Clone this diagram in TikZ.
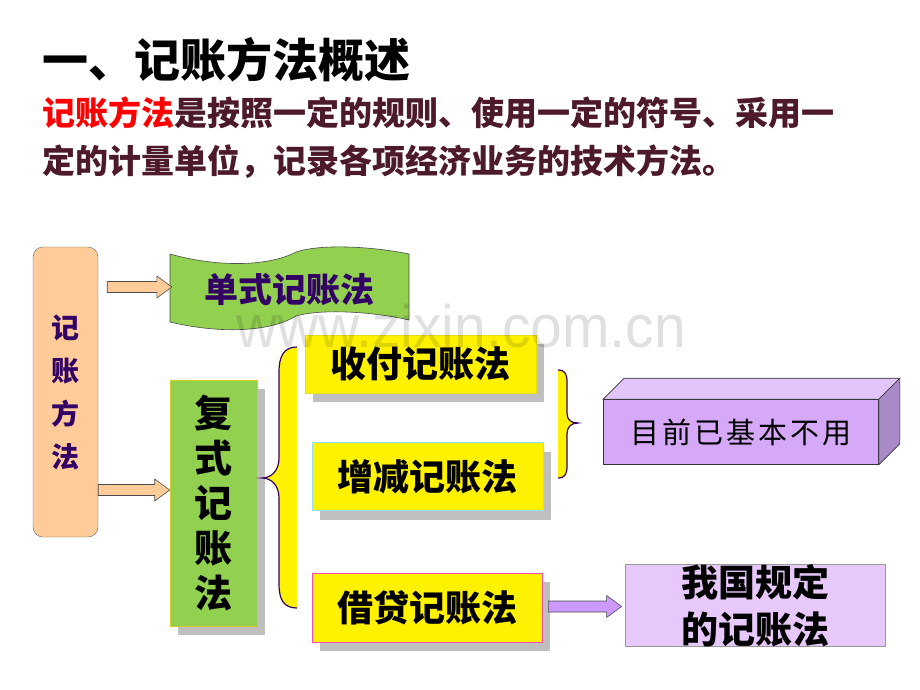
\documentclass[tikz,border=0pt]{standalone}
\usepackage{fontspec}
\setmainfont{Noto Sans CJK SC}
\newfontfamily\wmfont{Liberation Sans}
\usepackage{tikz}
\usetikzlibrary{calc, shadows}

\definecolor{peach}{RGB}{255,204,153}
\definecolor{leaf}{RGB}{146,208,80}
\definecolor{ink}{RGB}{51,0,102}
\definecolor{maroon}{RGB}{77,26,42}
\definecolor{lilac}{RGB}{213,168,248}
\definecolor{lilactop}{RGB}{226,198,251}
\definecolor{lilacside}{RGB}{168,138,200}
\definecolor{lilacpale}{RGB}{230,200,250}
\definecolor{lilacarrow}{RGB}{204,153,255}

% flat block arrow from #2 to #3 (height taken from #2)
\newcommand\blockarrow[3]{%
  \path[#1] let \p1=(#2), \p2=(#3) in
    (\x1,\y1+5.5pt) -- (\x2-15pt,\y1+5.5pt) -- (\x2-15pt,\y1+11pt) -- (\x2,\y1)
    -- (\x2-15pt,\y1-11pt) -- (\x2-15pt,\y1-5.5pt) -- (\x1,\y1-5.5pt) -- cycle;}

\begin{document}
\begin{tikzpicture}[x=1pt, y=-1pt,
  every node/.style={inner sep=0pt},
  shade box/.style={drop shadow={shadow xshift=8pt, shadow yshift=-9pt, fill=black!25, opacity=1}},
  method/.style={shade box, fill=yellow, line width=0.6pt, font=\bfseries\fontsize{36}{36}\selectfont},
  brace/.style={fill=yellow, draw=ink, line width=1.2pt},
  arrowbody/.style={draw=black!70, line width=0.6pt}]
  \fill[white] (0,0) rectangle (920,690);
  \useasboundingbox (0,0) rectangle (920,690);

  % heading and definition
  \node[anchor=west, font=\bfseries\fontsize{46}{46}\selectfont] (title) at (42,60) {一、记账方法概述};
  \node[anchor=west, text=maroon, font=\bfseries\fontsize{33}{33}\selectfont] (line1) at (42,113)
    {{\color{red}记账方法}是按照一定的规则、使用一定的符号、采用一};
  \node[anchor=west, text=maroon, font=\bfseries\fontsize{33}{33}\selectfont] (line2) at (42,162)
    {定的计量单位，记录各项经济业务的技术方法。};

  % left column
  \node[draw=black!60, fill=peach, rounded corners=10pt, minimum width=65, minimum height=290,
    align=center, text=ink, font=\bfseries\fontsize{28}{43}\selectfont] (jzff) at (65.5,392)
    {记\\账\\方\\法};

  % single entry banner
  \filldraw[fill=leaf, draw=black!70, line width=0.6pt]
    (170,254) .. controls (220,268) and (270,266) .. (296,252)
    .. controls (320,244) and (370,246) .. (409,254) -- (409,320)
    .. controls (370,311) and (320,309) .. (296,316)
    .. controls (270,332) and (220,334) .. (170,322) -- cycle;
  \node[minimum width=239, text=ink, font=\bfseries\fontsize{34}{34}\selectfont]
    (dsjz) at (289.5,290) {单式记账法};

  % double entry
  \node[shade box, fill=leaf, draw=yellow!80!black, line width=0.6pt, minimum width=87, minimum height=246,
    align=center, font=\bfseries\fontsize{38}{45}\selectfont] (fsjz) at (213.5,503)
    {复\\式\\记\\账\\法};

  \coordinate (a1e) at ($(dsjz.west)+(2,-3)$);
  \coordinate (a1s) at ($(jzff.east |- a1e)+(9,0)$);
  \blockarrow{fill=peach, arrowbody}{a1s}{a1e}
  \coordinate (a2e) at ($(fsjz.west)+(0,-13)$);
  \blockarrow{fill=peach, arrowbody}{jzff.east |- a2e}{a2e}

  \filldraw[brace] (297,347) .. controls (284,347) and (279,356) .. (279,372) -- (279,458)
    .. controls (279,470) and (272,478) .. (262,478)
    .. controls (272,478) and (279,486) .. (279,498) -- (279,584)
    .. controls (279,600) and (284,608) .. (297,608);

  \node[method, draw=yellow!90!black, minimum width=231, minimum height=58] (sf) at (420.5,364) {收付记账法};
  \node[method, draw=cyan!40, minimum width=231, minimum height=68] (zj) at (427.5,476.5) {增减记账法};
  \node[method, draw=magenta!70, minimum width=230, minimum height=69] (jd) at (427,607.5) {借贷记账法};

  \filldraw[brace] (558,370) .. controls (565,370) and (567,374) .. (567,382) -- (567,413)
    .. controls (567,420) and (571,423) .. (578,423)
    .. controls (571,423) and (567,427) .. (567,434) -- (567,466)
    .. controls (567,474) and (565,478) .. (558,478);

  % 3d box
  \node[fill=lilac, draw=black!80, line width=0.6pt, minimum width=275, minimum height=65,
    font=\fontsize{29}{29}\selectfont\addfontfeature{LetterSpace=10}] (bjby) at (741,432) {目前已基本不用};
  \filldraw[fill=lilactop, draw=black!80, line width=0.6pt]
    (bjby.north west) -- ++(21,-21) -- ($(bjby.north east)+(21,-21)$) -- (bjby.north east) -- cycle;
  \filldraw[fill=lilacside, draw=black!80, line width=0.6pt]
    (bjby.north east) -- ++(21,-21) -- ($(bjby.south east)+(21,-21)$) -- (bjby.south east) -- cycle;

  \node[fill=lilacpale, draw=black!40, line width=0.8pt, minimum width=260, minimum height=81,
    align=center, font=\bfseries\fontsize{37}{47}\selectfont] (wg) at (755,605.5) {我国规定\\的记账法};
  \blockarrow{fill=lilacarrow, arrowbody}{$(jd.east)+(6,-1)$}{$(wg.west)+(-3,0)$}

  % watermark
  \node[text=black, opacity=0.12, xscale=0.95, font=\wmfont\fontsize{60}{60}\selectfont]
    (wm) at (461,326) {www.zixin.com.cn};
\end{tikzpicture}
\end{document}
